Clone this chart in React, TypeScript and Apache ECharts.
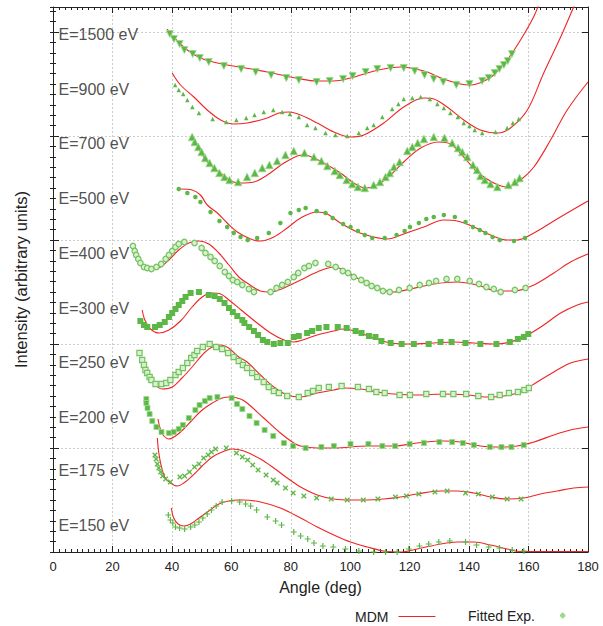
import React, { useEffect, useRef } from 'react';
import * as echarts from 'echarts';

// Curve labels and their vertical levels (arbitrary intensity units)
const energyLabels = ['E=1500 eV', 'E=900 eV', 'E=700 eV', 'E=500 eV', 'E=400 eV', 'E=300 eV', 'E=250 eV', 'E=200 eV', 'E=175 eV', 'E=150 eV'];
const labelLevels = [518, 463, 409, 354, 299, 244, 190, 135, 82, 27];

// MDM theory curves: [angle (deg), intensity (arb. units, offset)]
const mdm1500: [number, number][] = [[38.4,523],[40.5,515],[45.2,502],[49.6,494],[55.3,489],[60.7,486],[72.1,480],[83.3,473],[88.9,471],[94.4,471],[100.1,474],[105.7,479],[111.2,483],[116.9,485],[120.3,484],[125.9,480],[131.4,473],[137.1,468],[140.5,467],[144.4,470],[148.3,477],[152.8,492],[157.3,512],[161.7,535],[164,552]];
const mdm900: [number, number][] = [[40.1,479],[42.9,467],[47.4,455],[51.9,442],[56.4,432],[60.8,428],[65.3,429],[72.1,434],[76,439],[79.5,440],[83.3,437],[88.9,429],[94.5,420],[100.1,415],[104.6,417],[111.3,429],[118.0,445],[124.8,454],[128.1,453],[132.6,445],[138.2,432],[143.8,422],[149.5,419],[153.9,424],[159.6,442],[165.1,479],[170.8,515],[175.2,545],[177,556]];
const mdm700: [number, number][] = [[48.5,407],[51.9,390],[56.4,379],[60.8,370],[63.1,369],[67.6,370],[72.1,377],[77.7,389],[82.2,396],[84.5,397],[87.8,394],[92.3,387],[96.7,379],[101.2,369],[105.1,364],[109.1,367],[113.6,377],[118.0,390],[123.7,404],[129.8,410],[133.7,408],[138.2,395],[142.7,380],[148.3,369],[152.8,365],[157.3,372],[161.8,385],[167.4,412],[173.0,442],[180,470]];
const mdm500: [number, number][] = [[42.9,363],[46.8,362],[49.6,357],[51.9,347],[55.3,339],[58.6,329],[62.0,320],[66.5,313],[69.8,311],[74.3,315],[78.8,324],[83.3,334],[88.9,340],[92.3,338],[96.7,329],[102.4,320],[107.9,315],[112.5,313],[118.0,318],[124.8,325],[131.5,332],[136.0,331],[141.6,325],[147.2,317],[152.8,312],[156.2,312],[161.8,319],[167.4,329],[173.0,339],[180,351]];
const mdm400: [number, number][] = [[27.8,301],[29.4,290],[31.1,285],[33.4,283],[36.2,285],[39.0,292],[42.3,302],[45.7,309],[49.1,311],[52.4,308],[55.8,299],[59.2,287],[62.5,275],[65.3,269],[69.8,261],[73.2,260],[77.7,264],[83.3,272],[88.9,280],[94.5,285],[97.8,282],[103.5,272],[109.1,264],[114.7,260],[120.3,263],[128.1,268],[136.0,270],[142.7,267],[149.5,261],[155.1,261],[161.8,267],[168.5,279],[174.1,290],[180,298]];
const mdm300: [number, number][] = [[30.0,242],[30.9,232],[32.8,223],[35.6,219],[39.0,222],[42.9,231],[46.8,245],[50.2,255],[53.3,259],[56.4,258],[59.2,252],[63.3,242],[68.7,229],[73.2,219],[77.7,212],[81,210],[84,212],[88.9,217],[94.5,221],[97.8,223],[102.4,220],[107.9,214],[113.6,209],[120.3,208],[128.1,209],[134.9,210],[141.6,209],[148.3,208],[153.9,210],[159.6,217],[165.1,227],[170.8,239],[176.4,247],[180,250]];
const mdm250: [number, number][] = [[33.9,169],[36.7,163],[40.1,165],[43.4,174],[46.8,185],[50.2,197],[53.0,204],[56.4,207],[59.1,204],[62.5,195],[65.3,190],[69.8,177],[74.3,165],[78.8,157],[83.3,155],[88.9,159],[94.5,162],[97.8,164],[103.5,163],[109.1,160],[114.7,158],[122.5,157],[131.5,158],[139.4,157],[146.1,155],[151.7,156],[157.3,160],[162.9,170],[168.5,180],[174.1,189],[180,193]];
const mdm200: [number, number][] = [[35.3,133],[36.2,122],[37.3,116],[39.0,113],[41.2,116],[44.0,123],[46.8,132],[50.2,142],[53.6,149],[56.9,154],[59.7,155],[63.1,153],[65.3,149],[70.9,134],[76.5,119],[81.0,109],[83.3,106],[88.9,104],[94.5,104],[105.7,106],[114.7,106],[122.5,109],[131.5,111],[137.1,110],[143.8,106],[150.6,105],[156.2,106],[161.8,110],[168.5,117],[174.1,122],[180,125]];
const mdm175: [number, number][] = [[35.1,114],[35.6,99],[36.5,85],[37.6,75],[39.5,69],[41.8,66],[44.0,69],[46.8,76],[50.2,86],[53.6,95],[56.9,100],[60.3,103],[64.2,101],[69.8,93],[74.3,84],[78.8,74],[83.3,65],[88.9,57],[94.5,53],[100.1,52],[105.7,52],[111.3,53],[116.9,55],[122.5,58],[130.4,61],[136.0,61],[141.6,59],[147.2,55],[152.8,53],[158.4,54],[164.0,58],[169.6,61],[175.2,64],[180,65]];
const mdm150: [number, number][] = [[39.8,44],[40.6,34],[42.1,28],[44.0,26],[46.3,28],[49.1,34],[52.4,41],[55.8,48],[59.1,51],[62.5,52],[64.2,52],[69.8,50],[76.5,44],[83.3,34],[88.9,25],[94.5,17],[100.1,10],[105.7,5],[111.3,1],[116.9,0],[122.5,3],[130.4,8],[136.0,10],[141.6,10],[147.2,7],[152.8,3],[157.3,0.5],[165,0.5],[172,0.5],[180,0.5]];

// Fitted experimental points
const exp1500: [number, number][] = [[39.3,518],[40.7,513],[42.6,508],[44.2,502],[47.0,498],[49.4,494],[52.4,490],[57.5,486],[63.3,483],[68.2,480],[73.4,477],[78.5,474],[82.7,472],[88.7,470],[93.1,471],[97.6,473],[100.8,476],[105.2,480],[109.1,483],[113.6,484],[118.0,484],[121.7,481],[125.0,477],[128.1,473],[131.3,470],[135.7,467],[140.1,468],[144.4,471],[146.6,474],[148.6,479],[150.2,483],[151.7,487],[153.0,491],[154.4,498]];
const exp900: [number, number][] = [[41.1,467],[42.3,462],[43.8,458],[45.2,452],[46.9,445],[49.1,439],[53.7,433],[58.3,430],[61.7,432],[65.0,434],[67.8,437],[70.9,440],[74.1,442],[77.1,440],[79.7,438],[82.7,435],[85.5,427],[88.3,424],[91.7,419],[95.0,417],[99.0,416],[102.9,419],[105.7,424],[107.9,427],[110.8,435],[114.1,443],[116.2,448],[118.0,453],[120.9,454],[123.7,455],[126.8,453],[129.3,448],[131.5,444],[133.7,439],[136.2,435],[138.2,429],[140.1,426],[141.9,422],[144.4,419],[148.9,420],[152.8,424],[154.7,429],[156.7,433]];
const exp700: [number, number][] = [[46.8,415],[47.7,410],[48.9,405],[50.0,400],[51.2,394],[52.7,389],[54.3,384],[56.0,379],[57.7,375],[59.4,372],[62.3,370],[65.3,375],[67.9,379],[70.4,384],[72.8,387],[75.4,391],[78.2,397],[81.0,401],[84.6,399],[87.8,395],[90.3,391],[92.3,386],[94.8,381],[96.5,377],[98.8,372],[100.7,368],[102.6,365],[104.9,364],[107.9,367],[110.0,370],[111.9,375],[113.3,379],[114.7,385],[116.6,390],[119.2,401],[120.9,405],[122.7,409],[124.8,413],[128.1,415],[131.7,414],[134.3,409],[136.3,404],[137.7,400],[139.4,395],[141.3,387],[142.7,382],[143.8,376],[145.3,372],[147.2,368],[149.5,365],[153.2,367],[155.4,370],[157.0,374]];
const exp500: [number, number][] = [[42.3,363],[45.2,359],[47.9,355],[49.6,350],[53.0,340],[56.0,331],[58.6,325],[60.8,319],[63.1,315],[65.5,312],[68.7,314],[72.6,319],[76.5,329],[79.9,339],[82.7,342],[85.0,344],[88.7,341],[91.7,339],[94.1,334],[97.6,328],[100.1,325],[102.6,321],[104.9,317],[107.4,314],[111.6,314],[115.6,317],[118.3,321],[120.1,325],[123.1,329],[125.6,333],[128.1,335],[131.5,337],[135.2,335],[138.8,330],[141.3,325],[143.6,322],[145.5,319],[147.9,315],[150.3,312],[155.1,311],[158.8,314]];
const exp400: [number, number][] = [[26.9,306],[27.5,301],[28.0,297],[28.7,293],[29.4,289],[30.6,285],[31.7,284],[33.1,283],[34.8,285],[36.4,288],[37.9,293],[39.0,297],[40.1,301],[41.2,305],[42.3,308],[44.2,310],[47.6,309],[50.0,304],[51.3,299],[53.0,295],[54.4,291],[56.1,286],[57.8,280],[59.2,276],[60.5,272],[62.0,270],[63.7,267],[65.9,263],[67.6,260],[73.2,260],[75.2,264],[77.1,267],[79.0,270],[81.0,275],[82.5,279],[84.6,284],[86.1,286],[88.3,289],[92.6,288],[95.1,285],[97.5,281],[99.3,279],[101.2,275],[103.7,272],[105.5,269],[107.2,266],[109.1,264],[111.0,261],[113.3,260],[116.4,262],[120.0,264],[123.4,267],[126.5,269],[128.9,271],[132.4,273],[136.0,273],[140.2,271],[143.3,268],[145.8,265],[148.3,263],[150.6,260],[155.4,262],[159.0,264]];
const exp300: [number, number][] = [[29.4,231],[30.6,227],[31.7,225],[34.3,225],[35.9,227],[37.6,230],[39.0,235],[40.1,239],[41.2,243],[42.3,247],[43.5,251],[44.6,255],[46.3,259],[49.1,260],[52.4,257],[54.4,256],[56.1,253],[57.7,249],[59.2,244],[60.5,240],[62.0,236],[63.7,232],[64.4,229],[66.0,225],[67.6,221],[69.0,217],[70.6,212],[72.1,210],[74.3,208],[76.5,209],[79.0,209],[81.0,215],[82.7,216],[85.5,219],[87.2,221],[89.4,224],[92.0,225],[95.8,225],[98.8,224],[101.8,221],[103.8,219],[106.3,216],[108.5,215],[110.5,211],[113.6,209],[117.3,208],[121.4,208],[126.4,208],[130.4,210],[134.1,210],[138.8,209],[143.8,208],[149.2,208],[153.7,210],[156.4,213],[158.4,215],[159.9,218]];
const exp250: [number, number][] = [[29.1,199],[30.0,192],[30.6,187],[31.1,182],[31.7,179],[32.5,175],[33.1,172],[34.5,168],[36.5,168],[38.1,169],[39.5,172],[41.2,177],[42.3,180],[43.7,184],[45.2,189],[46.5,194],[47.6,197],[48.5,201],[50.4,205],[52.7,208],[54.9,205],[56.9,203],[58.9,199],[60.8,195],[62.5,191],[63.9,187],[65.3,184],[67.0,179],[68.7,175],[70.9,170],[72.6,165],[74.3,161],[76.0,159],[78.8,156],[82.7,155],[85.7,159],[87.5,161],[89.4,164],[92.8,165],[97.1,166],[102.6,165],[106.3,163],[108.8,160],[111.6,159],[116.6,157],[120.1,157],[125.6,158],[131.2,158],[134.7,158],[139.0,158],[143.1,156],[147.4,155],[150.3,157],[153.4,159],[156.4,160],[158.6,162],[160.1,164]];
const exp200: [number, number][] = [[31.4,153],[31.4,149],[31.8,144],[32.5,138],[33.4,131],[34.8,125],[36.5,120],[39.0,119],[40.6,120],[42.3,123],[43.7,127],[45.7,134],[47.9,142],[49.3,147],[51.1,151],[52.7,154],[55.3,155],[60.1,154],[61.9,148],[63.7,143],[66.1,136],[68.5,129],[71.2,122],[74.1,116],[77.7,109],[80.8,106],[85.0,104],[90.3,105],[94.5,106],[100.1,108],[106.1,108],[110.8,106],[115.1,106],[120.0,108],[124.8,109],[130.0,110],[134.3,110],[137.9,109],[141.6,107],[147.0,105],[150.9,105],[154.2,105],[158.4,107]];
const exp175: [number, number][] = [[34.3,97],[34.7,93],[35.1,88],[35.6,84],[36.2,80],[36.9,76],[37.9,73],[39.5,70],[42.7,75],[44.3,76],[45.9,80],[47.6,85],[49.1,88],[50.7,94],[52.2,97],[53.3,100],[54.7,103],[58.3,104],[61.7,99],[63.7,95],[65.5,92],[67.2,87],[69.0,82],[71.7,77],[74.1,72],[75.4,69],[78.2,64],[80.8,59],[84.4,56],[88.7,54],[93.6,53],[99.0,52],[104.4,52],[109.3,53],[115.2,55],[118.9,56],[123.1,58],[128.5,60],[132.6,61],[138.8,59],[143.1,58],[147.8,55],[152.8,53],[157.5,53]];
const exp150: [number, number][] = [[38.8,37],[39.5,32],[40.3,29],[41.2,25],[42.6,24],[44.3,23],[46.3,25],[47.7,27],[49.1,30],[50.4,34],[51.9,38],[53.3,42],[54.9,46],[56.9,50],[60.1,51],[62.8,50],[64.8,48],[66.5,46],[68.5,42],[72.1,35],[74.9,31],[76.9,27],[81.0,20],[83.3,16],[85.7,13],[87.8,9],[90.8,6],[94.3,5],[98.4,3],[102.9,1],[107.9,0],[111.9,0],[115.8,0],[119.7,3],[123.3,6],[126.4,8],[129.8,10],[133.5,11],[138.8,10],[142.5,7],[146.6,5],[150.2,4],[154.5,2],[158.4,1]];

const RED = '#f02424';
const GREEN = '#5cb846';
const GREEN_LIGHT = '#9ad88a';
const GREEN_EDGE = '#74c360';
const GREEN_FILL = '#d9f0d1';
const INK = '#222222';
const FONT = 'Liberation Sans, Arial, Helvetica, sans-serif';
const PLUS = 'path://M4,0H6V4H10V6H6V10H4V6H0V4H4Z';
const DASH = 'path://M0,0H40V1.3H0Z';

type MarkerStyle = { symbol: string; rotate?: number; size: number; color: string; border?: string; borderWidth?: number };

const curves: { mdm: [number, number][]; exp: [number, number][]; marker: MarkerStyle }[] = [
  { mdm: mdm1500, exp: exp1500, marker: { symbol: 'triangle', rotate: 180, size: 7, color: GREEN, border: GREEN_LIGHT, borderWidth: 0.8 } },
  { mdm: mdm900, exp: exp900, marker: { symbol: 'triangle', size: 4.5, color: GREEN } },
  { mdm: mdm700, exp: exp700, marker: { symbol: 'triangle', size: 7.5, color: GREEN, border: GREEN_LIGHT, borderWidth: 0.8 } },
  { mdm: mdm500, exp: exp500, marker: { symbol: 'circle', size: 4.5, color: GREEN } },
  { mdm: mdm400, exp: exp400, marker: { symbol: 'circle', size: 5.5, color: GREEN_FILL, border: GREEN_EDGE, borderWidth: 1.2 } },
  { mdm: mdm300, exp: exp300, marker: { symbol: 'rect', size: 6, color: GREEN } },
  { mdm: mdm250, exp: exp250, marker: { symbol: 'rect', size: 5.2, color: GREEN_FILL, border: GREEN_EDGE, borderWidth: 1.2 } },
  { mdm: mdm200, exp: exp200, marker: { symbol: 'rect', size: 5, color: GREEN, border: GREEN_LIGHT, borderWidth: 0.8 } },
  { mdm: mdm175, exp: exp175, marker: { symbol: PLUS, rotate: 45, size: 6.5, color: GREEN } },
  { mdm: mdm150, exp: exp150, marker: { symbol: PLUS, size: 6, color: GREEN } },
];

const lineStyle = { color: INK, width: 1 };

function buildOption(): any {
  const series: any[] = [];
  curves.forEach((c) => {
    series.push({
      name: 'MDM',
      type: 'line',
      data: c.mdm,
      smooth: 0.35,
      symbol: 'none',
      clip: true,
      lineStyle: { color: RED, width: 1.1 },
      itemStyle: { color: RED },
      z: 3,
      silent: true,
    });
    series.push({
      name: 'Fitted Exp.',
      type: 'scatter',
      data: c.exp,
      symbol: c.marker.symbol,
      symbolRotate: c.marker.rotate || 0,
      symbolSize: c.marker.size,
      clip: true,
      itemStyle: {
        color: c.marker.color,
        borderColor: c.marker.border || c.marker.color,
        borderWidth: c.marker.borderWidth || 0,
        opacity: 1,
      },
      z: 4,
      silent: true,
    });
  });
  series.push({
    name: 'labels',
    type: 'scatter',
    symbolSize: 0,
    silent: true,
    z: 5,
    data: energyLabels.map((t, i) => ({ name: t, value: [1.85, labelLevels[i]] })),
    label: {
      show: true,
      position: 'right',
      distance: 0,
      formatter: '{b}',
      fontSize: 16,
      color: INK,
      fontFamily: FONT,
    },
  });

  return {
    animation: false,
    backgroundColor: '#ffffff',
    textStyle: { fontFamily: FONT },
    grid: { left: 53, right: 15, top: 7, bottom: 74, containLabel: false },
    legend: [
      {
        data: [{ name: 'MDM', icon: DASH, itemStyle: { color: RED } }],
        left: 355,
        top: 609.5,
        padding: 0,
        align: 'right',
        itemWidth: 37,
        itemHeight: 14,
        selectedMode: false,
        textStyle: { fontSize: 14, color: INK, fontFamily: FONT, padding: [0, 5, 0, 0] },
      },
      {
        data: [{ name: 'Fitted Exp.', icon: PLUS, itemStyle: { color: GREEN } }],
        left: 468,
        top: 608.5,
        padding: 0,
        align: 'right',
        itemWidth: 3.5,
        itemHeight: 3.5,
        selectedMode: false,
        textStyle: { fontSize: 14, color: INK, fontFamily: FONT, padding: [0, 21, 0, 0] },
      },
    ],
    xAxis: [
      {
        type: 'value',
        min: 0,
        max: 180,
        interval: 20,
        position: 'bottom',
        name: 'Angle (deg)',
        nameLocation: 'middle',
        nameGap: 27,
        nameTextStyle: { fontSize: 16, color: INK, fontFamily: FONT },
        axisLine: { show: true, onZero: false, lineStyle },
        axisTick: { show: true, inside: true, length: 6, lineStyle },
        minorTick: { show: true, splitNumber: 10, length: 3, lineStyle },
        axisLabel: { fontSize: 13, color: INK, margin: 8, fontFamily: FONT },
        splitLine: { show: true, lineStyle: { color: '#cdcdcd', type: [2, 2], width: 1 } },
      },
      {
        type: 'value',
        min: 0,
        max: 180,
        interval: 20,
        position: 'top',
        axisLine: { show: true, onZero: false, lineStyle },
        axisTick: { show: true, inside: true, length: 6, lineStyle },
        minorTick: { show: true, splitNumber: 10, length: 3, lineStyle },
        axisLabel: { show: false },
        splitLine: { show: false },
      },
    ],
    yAxis: [
      {
        type: 'value',
        min: 0,
        max: 545,
        interval: 104,
        position: 'left',
        name: 'Intensity (arbitrary units)',
        nameLocation: 'middle',
        nameGap: 24,
        nameRotate: 90,
        nameTextStyle: { fontSize: 16.5, color: INK, fontFamily: FONT },
        axisLine: { show: true, onZero: false, lineStyle },
        axisTick: { show: true, inside: true, length: 6, lineStyle },
        axisLabel: { show: false },
        splitLine: { show: true, showMinLine: false, showMaxLine: false, lineStyle: { color: '#cdcdcd', type: [2, 2], width: 1 } },
      },
      {
        type: 'value',
        min: 0,
        max: 545,
        interval: 104,
        position: 'right',
        axisLine: { show: true, onZero: false, lineStyle },
        axisTick: { show: true, inside: true, length: 6, lineStyle },
        axisLabel: { show: false },
        splitLine: { show: false },
      },
      {
        type: 'value',
        min: 0,
        max: 545,
        interval: 10.4,
        position: 'left',
        axisLine: { show: false },
        axisTick: { show: true, inside: true, length: 3, lineStyle },
        axisLabel: { show: false },
        splitLine: { show: false },
      },
      {
        type: 'value',
        min: 0,
        max: 545,
        interval: 10.4,
        position: 'right',
        axisLine: { show: false },
        axisTick: { show: true, inside: true, length: 3, lineStyle },
        axisLabel: { show: false },
        splitLine: { show: false },
      },
    ],
    series,
  };
}

export default function App() {
  const ref = useRef<HTMLDivElement>(null);
  useEffect(() => {
    if (!ref.current) return;
    const chart = echarts.init(ref.current, null, { renderer: 'svg' });
    chart.setOption(buildOption());
    return () => chart.dispose();
  }, []);
  return (
    <div
      ref={ref}
      style={{ position: 'fixed', left: 0, top: 0, width: 603, height: 626, background: '#fff' }}
    />
  );
}
